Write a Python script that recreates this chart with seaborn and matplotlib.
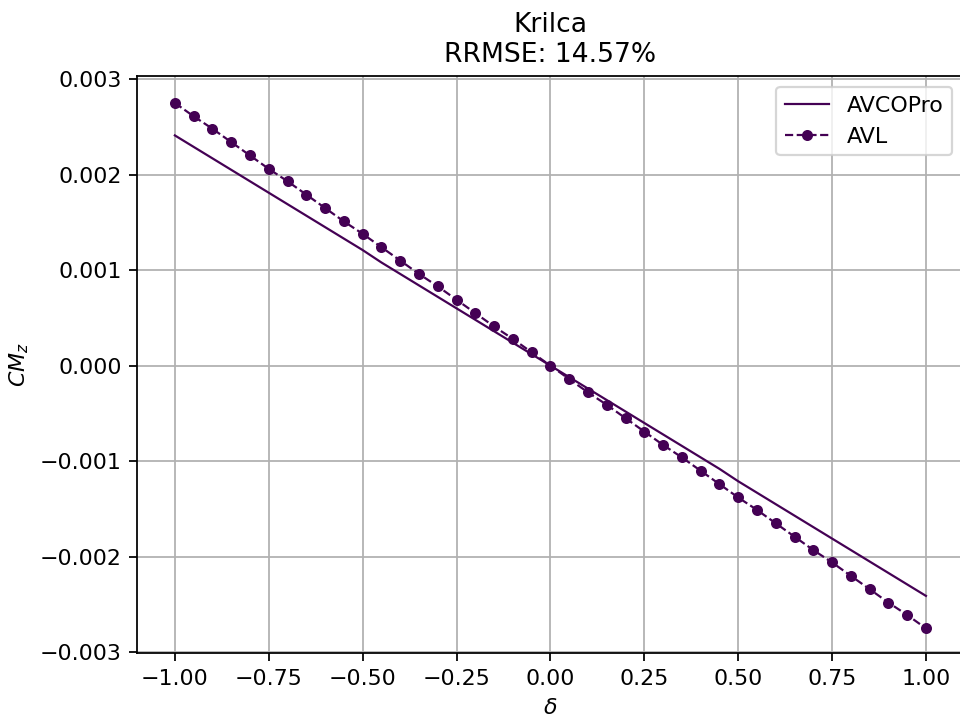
import numpy as np
import pandas as pd
import matplotlib
matplotlib.use("Agg")
import matplotlib.pyplot as plt
import seaborn as sns

delta = [-1.00, -0.95, -0.90, -0.85, -0.80, -0.75, -0.70, -0.65, -0.60, -0.55,
         -0.50, -0.45, -0.40, -0.35, -0.30, -0.25, -0.20, -0.15, -0.10, -0.05,
         0.00, 0.05, 0.10, 0.15, 0.20, 0.25, 0.30, 0.35, 0.40, 0.45,
         0.50, 0.55, 0.60, 0.65, 0.70, 0.75, 0.80, 0.85, 0.90, 0.95, 1.00]

cmz_avl = [0.00275, 0.00261, 0.00248, 0.00234, 0.00220, 0.00206, 0.00193, 0.00179,
           0.00165, 0.00151, 0.00138, 0.00124, 0.00110, 0.00096, 0.00083, 0.00069,
           0.00055, 0.00041, 0.00028, 0.00014, 0.00000, -0.00014, -0.00028, -0.00041,
           -0.00055, -0.00069, -0.00083, -0.00096, -0.00110, -0.00124, -0.00138,
           -0.00151, -0.00165, -0.00179, -0.00193, -0.00206, -0.00220, -0.00234,
           -0.00248, -0.00261, -0.00275]

cmz_avcopro = [0.00241, 0.00229, 0.00217, 0.00205, 0.00193, 0.00181, 0.00169, 0.00157,
               0.00145, 0.00133, 0.00121, 0.00108, 0.00096, 0.00084, 0.00072, 0.00060,
               0.00048, 0.00036, 0.00024, 0.00012, 0.00000, -0.00012, -0.00024, -0.00036,
               -0.00048, -0.00060, -0.00072, -0.00084, -0.00096, -0.00108, -0.00121,
               -0.00133, -0.00145, -0.00157, -0.00169, -0.00181, -0.00193, -0.00205,
               -0.00217, -0.00229, -0.00241]

color = "#440154"

df = pd.DataFrame({"delta": delta, "AVCOPro": cmz_avcopro, "AVL": cmz_avl})

dpi = 159
fig = plt.figure(figsize=(960 / dpi, 719 / dpi), dpi=dpi)
# axes runs a little past the right edge of the image, as in the reference
ax = fig.add_axes([137.3 / 960, 1 - 653.3 / 719, (963.5 - 137.3) / 960, (653.3 - 75.7) / 719])

sns.lineplot(x="delta", y="AVCOPro", data=df, ax=ax, color=color,
             linewidth=1.0, label="AVCOPro")
sns.lineplot(x="delta", y="AVL", data=df, ax=ax, color=color,
             linewidth=1.0, linestyle="--", marker="o", markersize=5,
             markeredgewidth=0, label="AVL")

ax.set_xticks([-1.0, -0.75, -0.5, -0.25, 0.0, 0.25, 0.5, 0.75, 1.0])
ax.set_yticks([-0.003, -0.002, -0.001, 0.0, 0.001, 0.002, 0.003])
ax.set_xlim(-1.1, 1.1)
ax.set_ylim(-0.003011, 0.003035)
ax.grid(True, color="#b0b0b0", linewidth=0.8)
ax.set_axisbelow(True)

ax.set_xlabel(r"$\delta$")
ax.set_ylabel(r"$CM_z$")
ax.set_title("Krilca\nRRMSE: 14.57%")
ax.legend(loc="upper right")

fig.savefig("out.png", dpi=dpi)
